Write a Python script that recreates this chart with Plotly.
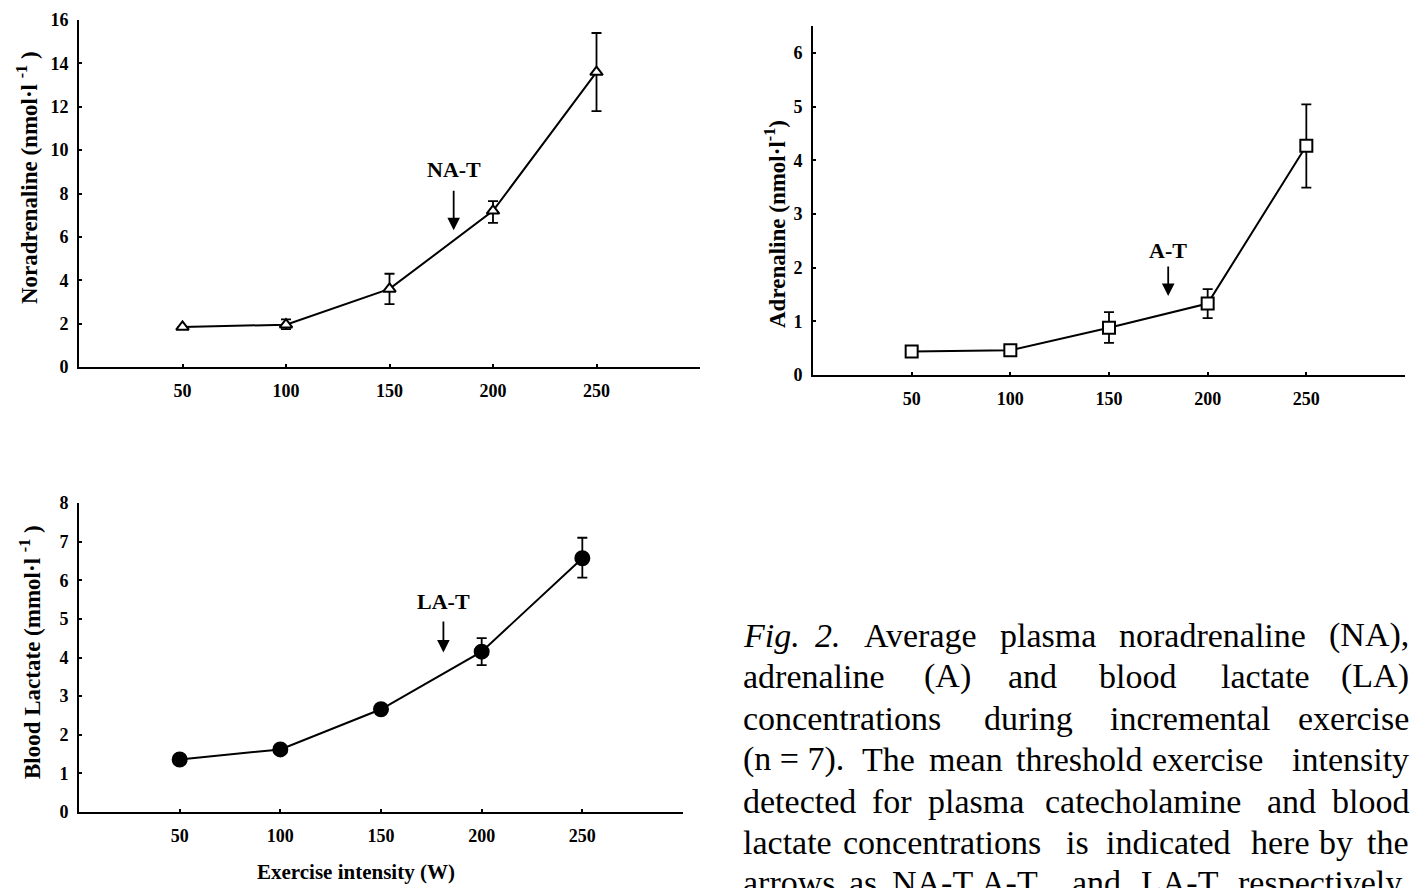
import plotly.graph_objects as go

# ---------------- data ----------------
intensity = [50, 100, 150, 200, 250]
x_tick_vals = [50, 100, 150, 200, 250]
x_tick_text = ["50", "100", "150", "200", "250"]

na_mean = [1.85, 1.95, 3.6, 7.2, 13.6]
na_err_plus = [0.0, 0.25, 0.7, 0.45, 1.8]
na_err_minus = [0.0, 0.2, 0.7, 0.55, 1.8]

a_mean = [0.44, 0.46, 0.88, 1.33, 4.27]
a_err_plus = [0.0, 0.0, 0.29, 0.27, 0.77]
a_err_minus = [0.0, 0.0, 0.28, 0.27, 0.78]

la_mean = [1.36, 1.62, 2.66, 4.15, 6.57]
la_err_plus = [0.0, 0.0, 0.0, 0.35, 0.53]
la_err_minus = [0.0, 0.0, 0.0, 0.35, 0.5]

threshold_labels = ["NA-T", "A-T", "LA-T"]
threshold_x = [181, 180, 181]
arrow_top = [8.2, 2.05, 4.97]
arrow_tip = [6.3, 1.47, 4.13]
label_y = [9.1, 2.32, 5.45]

na_yticks = [0, 2, 4, 6, 8, 10, 12, 14, 16]
a_yticks = [0, 1, 2, 3, 4, 5, 6]
la_yticks = [0, 1, 2, 3, 4, 5, 6, 7, 8]

caption_lines = [
    ["<i>Fig.</i>", "<i>2.</i>", "Average", "plasma", "noradrenaline", "(NA),"],
    ["adrenaline", "(A)", "and", "blood", "lactate", "(LA)"],
    ["concentrations", "during", "incremental", "exercise"],
    ["(n = 7).", "The", "mean", "threshold", "exercise", "intensity"],
    ["detected", "for", "plasma", "catecholamine", "and", "blood"],
    ["lactate", "concentrations", "is", "indicated", "here", "by", "the"],
    ["arrows", "as", "NA-T,", "A-T,", "and", "LA-T,", "respectively."],
]

# ---------------- layout helpers ----------------
W, H = 1420, 888
FONT = "Liberation Serif"


def fx(p):
    return p / W


def fy(p):
    return 1 - p / H


# word anchor positions (pixels) for the justified caption
caption_x = [
    [741, 828, 920, 1048, 1212, 1411],
    [741, 947, 1032, 1137, 1265, 1411],
    [741, 1028, 1190, 1411],
    [741, 888, 966, 1079, 1207, 1411],
    [741, 892, 976, 1143, 1291, 1411],
    [741, 942, 1077, 1168, 1280, 1336, 1411],
    [741, 863, 935, 1012, 1096, 1182, 1411],
]
caption_y = [635, 676, 718, 759, 801, 842, 882]

fig = go.Figure()

panels = [
    dict(xa="x", ya="y", mean=na_mean, ep=na_err_plus, em=na_err_minus,
         symbol="triangle-up", size=11),
    dict(xa="x2", ya="y2", mean=a_mean, ep=a_err_plus, em=a_err_minus,
         symbol="square", size=12),
    dict(xa="x3", ya="y3", mean=la_mean, ep=la_err_plus, em=la_err_minus,
         symbol="circle", size=14),
]

for p in panels:
    filled = p["symbol"] == "circle"
    fig.add_trace(go.Scatter(
        x=intensity, y=p["mean"], xaxis=p["xa"], yaxis=p["ya"],
        mode="lines+markers",
        line=dict(color="black", width=2),
        marker=dict(symbol=p["symbol"], size=p["size"],
                    color="black" if filled else "white",
                    line=dict(color="black", width=2)),
        error_y=dict(type="data", symmetric=False, array=p["ep"],
                     arrayminus=p["em"], color="black", thickness=1.8, width=5),
        showlegend=False, hoverinfo="skip",
    ))

tickfont = dict(family=FONT, size=18, color="black", weight="bold")


def xaxis(domain, anchor):
    return dict(domain=domain, anchor=anchor, range=[0, 300],
                tickvals=x_tick_vals, ticktext=x_tick_text,
                showline=True, linecolor="black", linewidth=2,
                ticks="inside", ticklen=3, tickwidth=1.5, tickcolor="black",
                showgrid=False, zeroline=False, tickfont=tickfont,
                ticklabelstandoff=6, fixedrange=True, automargin=False)


def yaxis(domain, anchor, rng, tv):
    return dict(domain=domain, anchor=anchor, range=rng, tickvals=tv,
                showline=True, linecolor="black", linewidth=2,
                ticks="inside", ticklen=3, tickwidth=1.5, tickcolor="black",
                showgrid=False, zeroline=False, tickfont=tickfont,
                ticklabelstandoff=5, fixedrange=True, automargin=False)


fig.update_layout(
    width=W, height=H,
    margin=dict(l=0, r=0, t=0, b=0),
    paper_bgcolor="white", plot_bgcolor="white",
    xaxis=xaxis([fx(79), fx(700)], "y"),
    yaxis=yaxis([fy(367), fy(20)], "x", [0, 16], na_yticks),
    xaxis2=xaxis([fx(813), fx(1405)], "y2"),
    yaxis2=yaxis([fy(375), fy(26)], "x2", [0, 6.5], a_yticks),
    xaxis3=xaxis([fx(79), fx(683)], "y3"),
    yaxis3=yaxis([fy(812), fy(503)], "x3", [0, 8], la_yticks),
)

annotations = []
axis_pairs = [("x", "y"), ("x2", "y2"), ("x3", "y3")]
for i, (xa, ya) in enumerate(axis_pairs):
    annotations.append(dict(
        x=threshold_x[i], y=arrow_tip[i], ax=threshold_x[i], ay=arrow_top[i],
        xref=xa, yref=ya, axref=xa, ayref=ya, text="", showarrow=True,
        arrowhead=2, arrowsize=1.4, arrowwidth=1.8, arrowcolor="black"))
    annotations.append(dict(
        x=threshold_x[i], y=label_y[i], xref=xa, yref=ya,
        xanchor="center", yanchor="middle",
        text="<b>%s</b>" % threshold_labels[i], showarrow=False,
        font=dict(family=FONT, size=22, color="black")))

# axis titles
rot_font = dict(family=FONT, size=23, color="black")
title_font = dict(family=FONT, size=21, color="black")
titles = [
    (27, 178, "<b>Noradrenaline (nmol·l <sup>-1</sup> )</b>", -90, rot_font),
    (776, 224, "<b>Adrenaline (nmol·l<sup>-1</sup>)</b>", -90, rot_font),
    (30, 652, "<b>Blood Lactate (mmol·l <sup>-1</sup> )</b>", -90, rot_font),
    (356, 872, "<b>Exercise intensity (W)</b>", 0, title_font),
]
for xp, yp, txt, ang, fnt in titles:
    annotations.append(dict(x=fx(xp), y=fy(yp), xref="paper", yref="paper",
                            xanchor="center", yanchor="middle",
                            text=txt, textangle=ang, showarrow=False, font=fnt))

# caption, justified word by word
cap_font = dict(family=FONT, size=34, color="black")
for words, xs, yp in zip(caption_lines, caption_x, caption_y):
    n = len(words)
    for j, (w, xp) in enumerate(zip(words, xs)):
        anchor = "left" if j == 0 else ("right" if j == n - 1 else "center")
        annotations.append(dict(x=fx(xp), y=fy(yp), xref="paper", yref="paper",
                                text=w, showarrow=False, xanchor=anchor,
                                yanchor="middle", font=cap_font))

fig.update_layout(annotations=annotations)

fig.write_html("out.html",
               config={"displayModeBar": False},
               post_script="document.body.style.margin='0px';"
                           "document.body.style.overflow='hidden';")
